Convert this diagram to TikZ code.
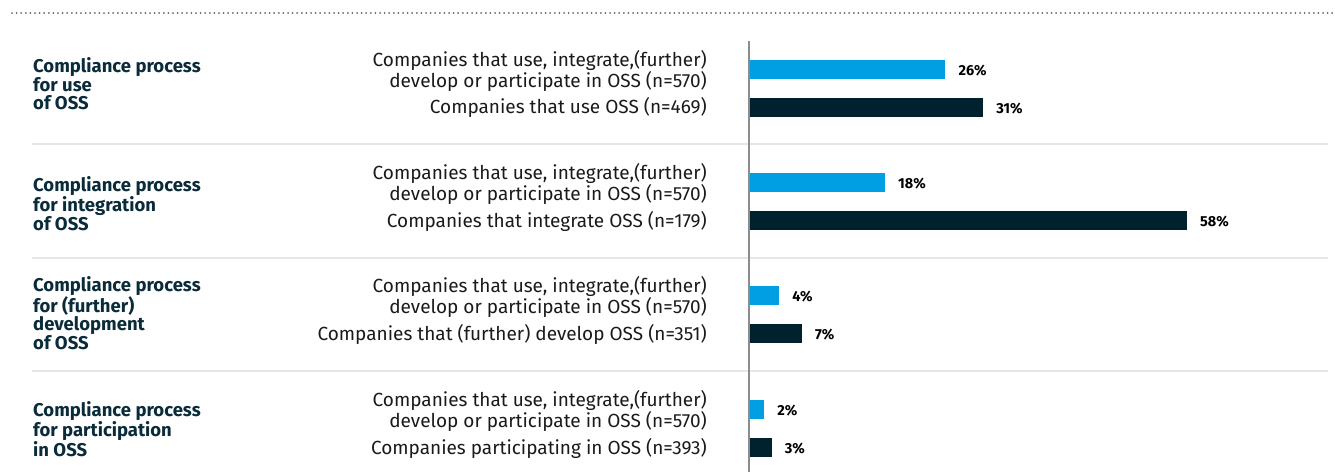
\documentclass[tikz,border=0pt]{standalone}
\usepackage{fontspec}
\setmainfont{Fira Sans}
\definecolor{cblue}{HTML}{009FE3}
\definecolor{cdark}{HTML}{00222E}
\definecolor{clabel}{HTML}{0A2B3A}
\definecolor{ctext}{HTML}{1A1A1A}
\definecolor{csep}{HTML}{E6E6E6}
\definecolor{caxis}{HTML}{8C8C8C}
\definecolor{cdot}{HTML}{666666}
\begin{document}
\begin{tikzpicture}[x=1pt,y=-1pt,
  cat/.style={anchor=west,align=left,inner sep=0pt,text=clabel,
    font=\fontsize{18.5}{18}\selectfont\bfseries},
  grp/.style={anchor=east,align=right,inner sep=0pt,text=ctext,
    font=\fontsize{19}{17}\selectfont},
  val/.style={anchor=west,inner sep=0pt,text=black,
    font=\fontsize{14.5}{15}\selectfont\bfseries},
  barA/.style={fill=cblue},
  barB/.style={fill=cdark},
  sep/.style={draw=csep,line width=1.2pt},
]
\useasboundingbox (0,0) rectangle (1335,472);
% dotted top rule
\coordinate (d1) at (12,13);
\coordinate (d2) at (1333,13);
\draw[cdot,line width=2pt,line cap=round,dash pattern=on 0pt off 4.6pt] (d1) -- (d2);
% separators
\foreach \yy in {144,258,371}{
  \draw[sep] (32,\yy) -- (1328,\yy);
}
% bars
\def\px{7.55}
\newcommand\mybar[3]{% y-center, percent, style
  \fill[#3] (749,#1-9.5) rectangle ({749+#2*\px},#1+9.5);
  \node[val] at ({749+#2*\px+13},#1+1) {#2\%};
}
\mybar{69.5}{26}{barA}
\mybar{107.5}{31}{barB}
\mybar{182.5}{18}{barA}
\mybar{220.5}{58}{barB}
\mybar{295.5}{4}{barA}
\mybar{333.5}{7}{barB}
\mybar{409.5}{2}{barA}
\mybar{447.5}{3}{barB}
% axis
\coordinate (ax1) at (748.5,41);
\coordinate (ax2) at (748.5,472);
\draw[caxis,line width=2pt] (ax1) -- (ax2);
% category labels
\node[cat] (c1) at (33,84) {Compliance process\\for use\\of OSS};
\node[cat] (c2) at (33,204) {Compliance process\\for integration\\of OSS};
\node[cat] (c3) at (33,313) {Compliance process\\for (further)\\development\\of OSS};
\node[cat] (c4) at (33,429) {Compliance process\\for participation\\in OSS};
% group labels
\node[grp] (g1a) at (707,71) {Companies that use, integrate,(further)\\develop or participate in OSS (n=570)};
\node[grp] (g1b) at (707,107) {Companies that use OSS (n=469)};
\node[grp] (g2a) at (707,184) {Companies that use, integrate,(further)\\develop or participate in OSS (n=570)};
\node[grp] (g2b) at (707,221) {Companies that integrate OSS (n=179)};
\node[grp] (g3a) at (707,297) {Companies that use, integrate,(further)\\develop or participate in OSS (n=570)};
\node[grp] (g3b) at (707,334) {Companies that (further) develop OSS (n=351)};
\node[grp] (g4a) at (707,411) {Companies that use, integrate,(further)\\develop or participate in OSS (n=570)};
\node[grp] (g4b) at (707,448) {Companies participating in OSS (n=393)};
\end{tikzpicture}
\end{document}
